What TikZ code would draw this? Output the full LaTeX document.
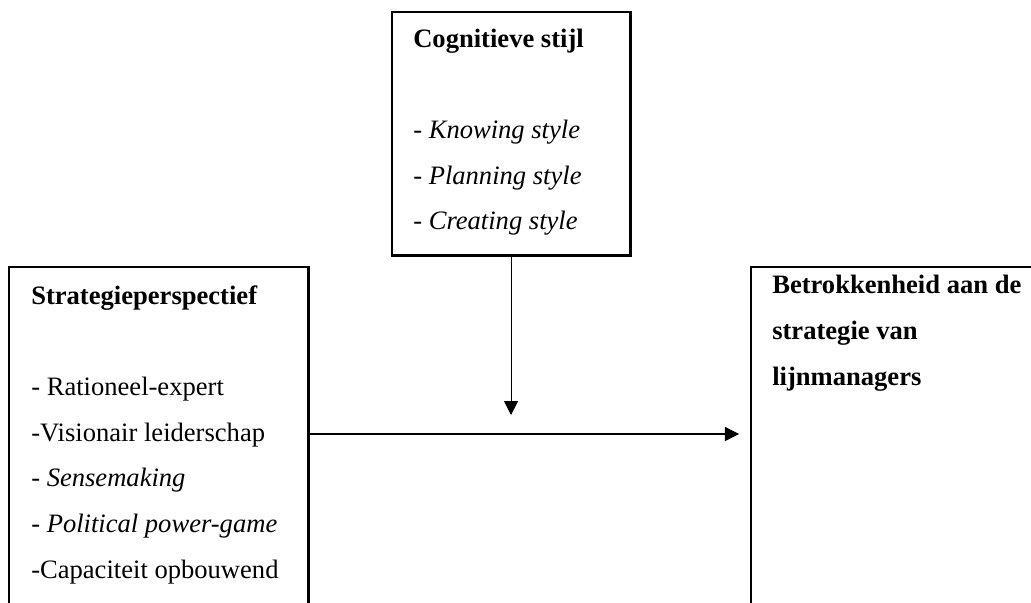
\documentclass[tikz,border=0pt]{standalone}
\usepackage{fontspec}
\setmainfont{Liberation Serif}
\usepackage{tikz}
\usetikzlibrary{arrows.meta,positioning,calc}

\begin{document}
\begin{tikzpicture}[
    x=0.025cm, y=-0.025cm,
    >={Triangle[length=10pt,width=10pt]},
    every node/.style={font=\fontsize{18.9}{32.4}\selectfont},
    frame/.style={draw, line width=2.1pt, anchor=north west, inner sep=0pt, outer sep=0pt},
    boxtext/.style={anchor=base west, inner sep=0pt, align=left},
    link/.style={->, line width=0.75pt}
]
\useasboundingbox (0,0) rectangle (1031,603);
\clip (0,0) rectangle (1031,603);

% the three boxes (side boxes run off the page)
\node[frame, minimum width=5.95cm, minimum height=6.075cm] (cog) at (392,12) {};
\node[frame, minimum width=7.475cm, minimum height=9cm] (strat) at (9,267) {};
\node[frame, minimum width=8cm, minimum height=9cm] (betr) at (751,267) {};

% texts, placed by the baseline of their last line
\node[boxtext] (cogtxt) at (413,230) {\textbf{Cognitieve stijl}\\[32.4pt]
- \textit{Knowing style}\\
- \textit{Planning style}\\
- \textit{Creating style}};

\node[boxtext] (strattxt) at (31,578) {\textbf{Strategieperspectief}\\[32.4pt]
- Rationeel-expert\\
-Visionair leiderschap\\
- \textit{Sensemaking}\\
- \textit{Political power-game}\\
-Capaciteit opbouwend};

\node[boxtext] (betrtxt) at (772,385) {\textbf{Betrokkenheid aan de}\\
\textbf{strategie van}\\
\textbf{lijnmanagers}};

\coordinate (mod) at ($(cog.south)+(0,160)$);
\coordinate (flow) at ($(strat.north east)+(0,167)$);

\draw[link] (cog.south) -- (mod);
\draw[link, shorten >=8.5pt] (strat.north east |- flow) -- (betr.north west |- flow);

\end{tikzpicture}
\end{document}
